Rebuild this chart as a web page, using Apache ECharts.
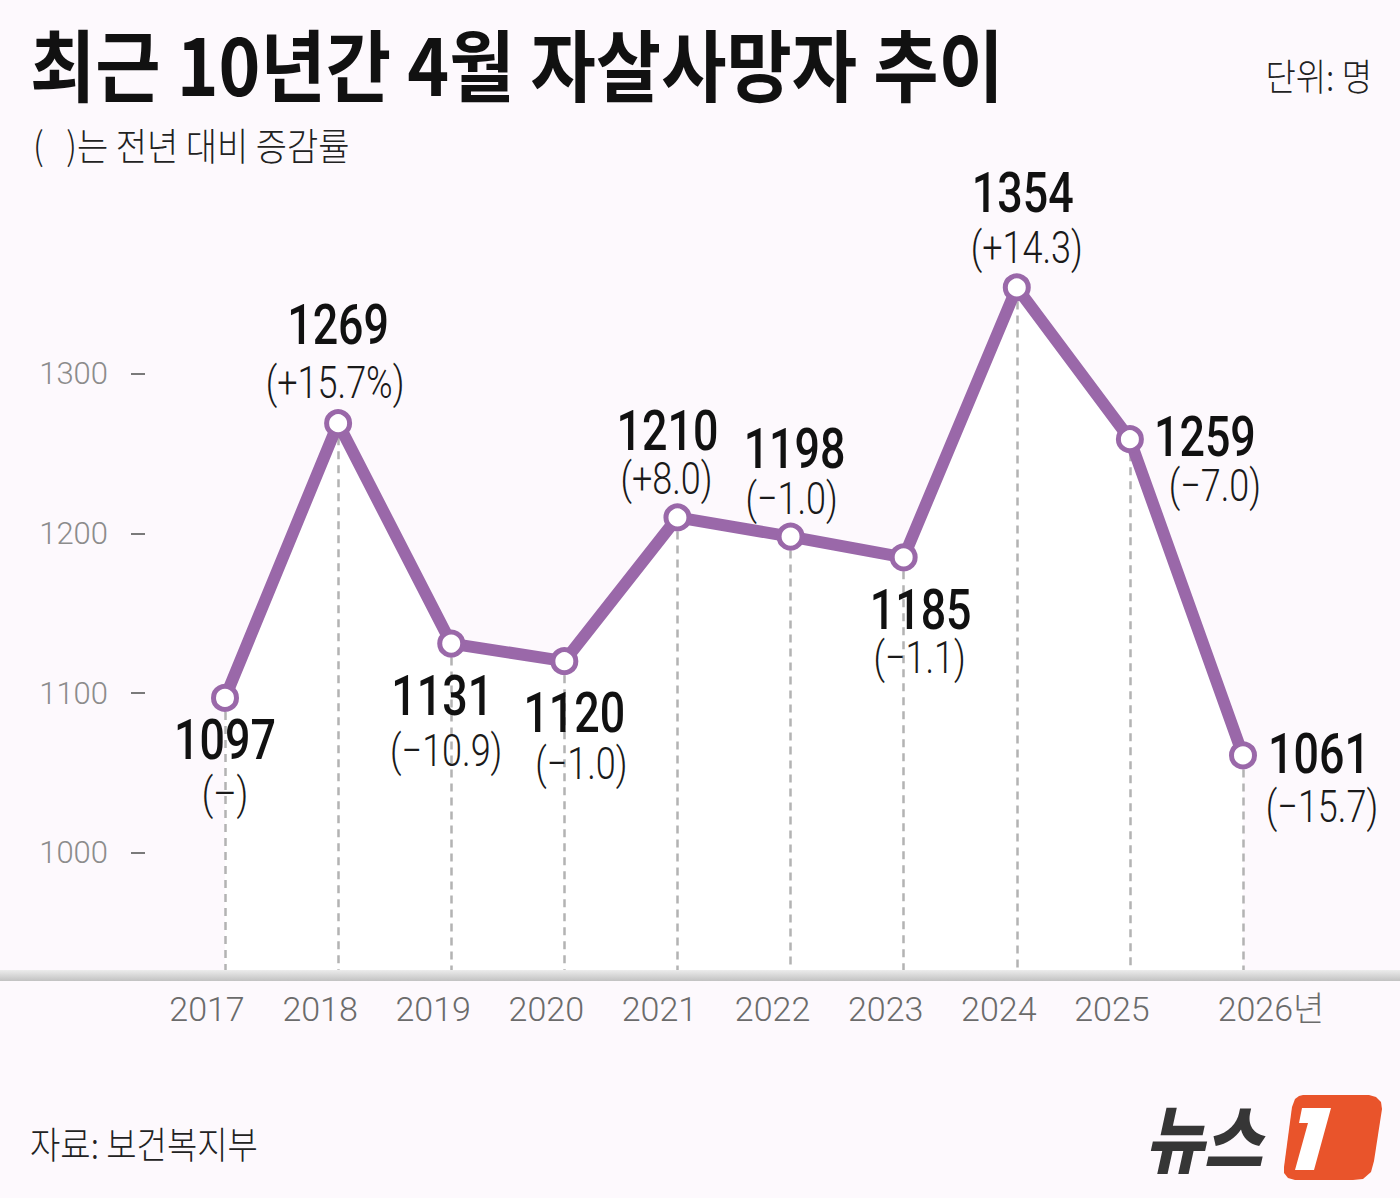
<!DOCTYPE html>
<html><head><meta charset="utf-8">
<script src="https://cdn.jsdelivr.net/npm/echarts@6/dist/echarts.min.js"></script>
<style>html,body{margin:0;padding:0;background:#fdf9fd;}#c{width:1400px;height:1198px;}</style>
</head><body><div id="c"></div>
<script>
const categories = ['2017','2018','2019','2020','2021','2022','2023','2024','2025','2026년'];
const deaths = [1097,1269,1131,1120,1210,1198,1185,1354,1259,1061];
const changes = ['(–)','(+15.7%)','(−10.9)','(−1.0)','(+8.0)','(−1.0)','(−1.1)','(+14.3)','(−7.0)','(−15.7)'];
const yTickValues = [1000,1100,1200,1300];

// label layout: [value dx, value dy, change dx, change dy] from the point centre (pixels)
const labelLayoutPx = [
  [0,42,0,96],[0,-99,-3,-41],[-9,52,-5,107],[10,51,17,102],[-10,-87,-11,-39],
  [4,-88,1,-38],[17,52,16,100],[6,-95,10,-40],[75,-3,85,46],[76,-2,79,51]
];

const Y_MIN = 923.5, Y_MAX = 1400;
const PURPLE = '#9a68a9';
const NUM = 'Roboto,"Noto Sans",sans-serif';
const KR = '"Noto Sans CJK KR","Noto Sans",sans-serif';

const logoShape = [[20,0],[86,0],[93,2],[98,7],[99,14],[91,66],[88,77],[80,84],[70,85],[12,85],[5,83],[1,78],[1,72],[9,12],[12,4],[16,1]];

const chart = echarts.init(document.getElementById('c'), null, {renderer: 'svg'});
chart.setOption({
  animation: false,
  backgroundColor: '#fdf9fd',
  grid: {left: 225, right: 157, top: 214, bottom: 223, containLabel: false, outerBoundsMode: 'none'},
  xAxis: {
    type: 'category', data: categories, boundaryGap: false,
    axisLine: {show: false}, axisTick: {show: false}, splitLine: {show: false},
    axisLabel: {
      margin: 17,
      formatter: (v, i) => i === categories.length - 1 ? '{b|' + v + '}' : '{a|' + v + '}',
      rich: {
        a: {fontFamily: NUM, fontWeight: 300, fontSize: 34, color: '#6b6b6b', padding: [0,36,0,0]},
        b: {fontFamily: '"Roboto","Noto Sans CJK KR",sans-serif', fontWeight: 300, fontSize: 34, color: '#6b6b6b', padding: [0,0,0,56]}
      }
    }
  },
  yAxis: {
    type: 'value', min: Y_MIN, max: Y_MAX, offset: 80,
    axisLine: {show: false}, splitLine: {show: false},
    axisTick: {show: true, customValues: yTickValues, length: 14, lineStyle: {color: '#7a7a7a', width: 2}},
    axisLabel: {customValues: yTickValues, margin: 37, fontFamily: NUM, fontWeight: 300, fontSize: 31, color: '#8c8c8c',
      formatter: v => String(v)}
  },
  series: [
    {
      type: 'line', data: deaths, z: 1, symbol: 'none', silent: true,
      lineStyle: {width: 0}, areaStyle: {color: '#ffffff', opacity: 1, origin: 'start'}
    },
    {
      type: 'line', data: deaths, z: 3,
      symbol: 'circle', symbolSize: 23,
      lineStyle: {color: PURPLE, width: 12, join: 'round'},
      itemStyle: {color: '#ffffff', borderColor: PURPLE, borderWidth: 5},
      markLine: {
        silent: true, z: 2, symbol: ['none','none'], label: {show: false},
        lineStyle: {type: [8,6], color: '#b3b3b3', width: 2.5},
        emphasis: {disabled: true},
        data: categories.map((c, i) => [{coord: [c, deaths[i]]}, {coord: [c, Y_MIN]}])
      }
    },
    {
      type: 'custom', z: 5, silent: true, clip: false,
      data: deaths.map((v, i) => [i, v]),
      renderItem: (params, api) => {
        const i = params.dataIndex;
        const p = api.coord([api.value(0), api.value(1)]);
        const L = labelLayoutPx[i];
        return {type: 'group', children: [
          {type: 'text', x: p[0] + L[0], y: p[1] + L[1], scaleX: 0.8,
           style: {text: String(deaths[i]), font: '500 56px ' + NUM, fill: '#111', align: 'center', verticalAlign: 'middle'}},
          {type: 'text', x: p[0] + L[2], y: p[1] + L[3], scaleX: 0.8,
           style: {text: changes[i], font: '300 45px ' + NUM, fill: '#1a1a1a', align: 'center', verticalAlign: 'middle'}}
        ]};
      }
    }
  ],
  graphic: [
    {type: 'rect', z: 10, shape: {x: 0, y: 970, width: 1400, height: 11},
     style: {fill: new echarts.graphic.LinearGradient(0,0,0,1,[{offset:0,color:'#ececec'},{offset:1,color:'#c2c2c2'}])}},
    {type: 'text', x: 30, y: 22, scaleY: 1.1, z: 10,
     style: {text: '최근 10년간 4월 자살사망자 추이', font: 'bold 71px ' + KR, fill: '#111', verticalAlign: 'top'}},
    {type: 'text', x: 33, y: 124, scaleY: 1.12, z: 10,
     style: {text: '(   )는 전년 대비 증감률', font: '300 34px ' + KR, fill: '#222', verticalAlign: 'top'}},
    {type: 'text', x: 1372, y: 56, scaleY: 1.12, z: 10,
     style: {text: '단위: 명', font: '300 33px ' + KR, fill: '#222', align: 'right', verticalAlign: 'top'}},
    {type: 'text', x: 30, y: 1124, scaleY: 1.12, z: 10,
     style: {text: '자료: 보건복지부', font: '300 33px ' + KR, fill: '#222', verticalAlign: 'top'}},
    {type: 'text', x: 1145, y: 1098, scaleY: 1.15, z: 10,
     style: {text: '뉴스', font: 'italic 900 64px ' + KR, fill: '#363636', verticalAlign: 'top'}},
    {type: 'polygon', z: 10, x: 1283, y: 1095,
     shape: {points: logoShape},
     style: {fill: '#e9542b'}},
    {type: 'polygon', z: 11,
     shape: {points: [[1302,1108],[1331,1108],[1314,1170],[1295,1170],[1308,1123],[1299,1123]]},
     style: {fill: '#ffffff'}}
  ]
});
</script></body></html>
